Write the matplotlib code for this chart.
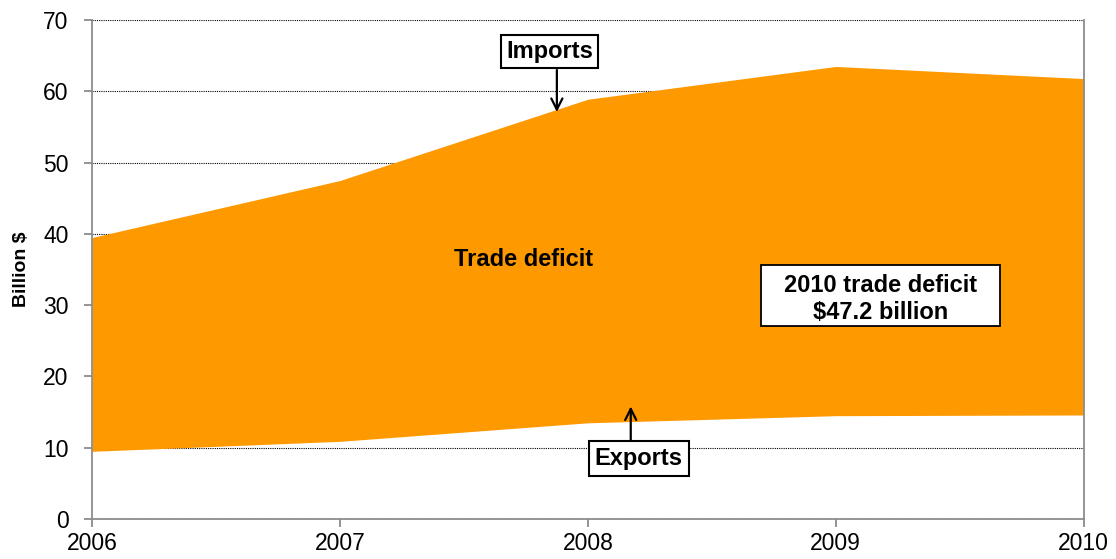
import matplotlib.pyplot as plt
from matplotlib.patches import Rectangle

plt.rcParams['font.family'] = ['Liberation Sans', 'DejaVu Sans']

years = [2006, 2007, 2008, 2009, 2010]
imports = [39.5, 47.5, 58.9, 63.5, 61.8]
exports = [9.5, 10.9, 13.5, 14.5, 14.6]

orange = '#FF9900'
gray = '#8C8C8C'

fig, ax = plt.subplots(figsize=(11.16, 5.59), dpi=100)
fig.subplots_adjust(left=0.0825, right=0.971, bottom=0.0715, top=0.964)

ax.fill_between(years, exports, imports, color=orange, lw=0, zorder=2)

ax.set_xlim(2006, 2010)
ax.set_ylim(0, 70)
ax.set_xticks(years)
ax.set_yticks(range(0, 71, 10))
ax.yaxis.grid(True, linestyle=(0, (1, 1)), color='black', lw=0.8, zorder=1)
ax.set_axisbelow(True)

for s in ['left', 'right', 'bottom']:
    ax.spines[s].set_color(gray)
    ax.spines[s].set_linewidth(1.3)
ax.spines['top'].set_visible(False)
ax.tick_params(axis='both', colors=gray, labelcolor='black', labelsize=16.5, length=6, width=1.3)
ax.tick_params(axis='x', pad=3)
ax.tick_params(axis='y', pad=11)
ax.set_ylabel('Billion $', fontsize=14, fontweight='bold', labelpad=9)

box = dict(boxstyle='square,pad=0.2', fc='white', ec='black', lw=1.5)
arrow = dict(arrowstyle='->', color='black', lw=1.6, mutation_scale=20,
             shrinkA=0, shrinkB=0)

ax.annotate('', xy=(2007.875, 57.1), xytext=(2007.875, 63.0), arrowprops=arrow, zorder=5)
ax.text(2007.845, 65.6, 'Imports', ha='center', va='center', fontsize=17,
        fontweight='bold', bbox=box, zorder=6)
ax.annotate('', xy=(2008.173, 15.8), xytext=(2008.173, 11.0), arrowprops=arrow, zorder=5)
ax.text(2008.205, 8.5, 'Exports', ha='center', va='center', fontsize=17,
        fontweight='bold', bbox=dict(boxstyle='square,pad=0.25', fc='white', ec='black', lw=1.5),
        zorder=6)
ax.text(2007.74, 36.4, 'Trade deficit', ha='center', va='center',
        fontsize=17, fontweight='bold', zorder=5)

# summary box
ax.add_patch(Rectangle((2008.698, 27.1), 0.963, 8.5, fc='white', ec='black', lw=1.3, zorder=5))
ax.text(2009.18, 30.9, '2010 trade deficit\n$47.2 billion', ha='center', va='center',
        fontsize=17, fontweight='bold', linespacing=1.25, zorder=6)

plt.savefig('out.png', dpi=100)
